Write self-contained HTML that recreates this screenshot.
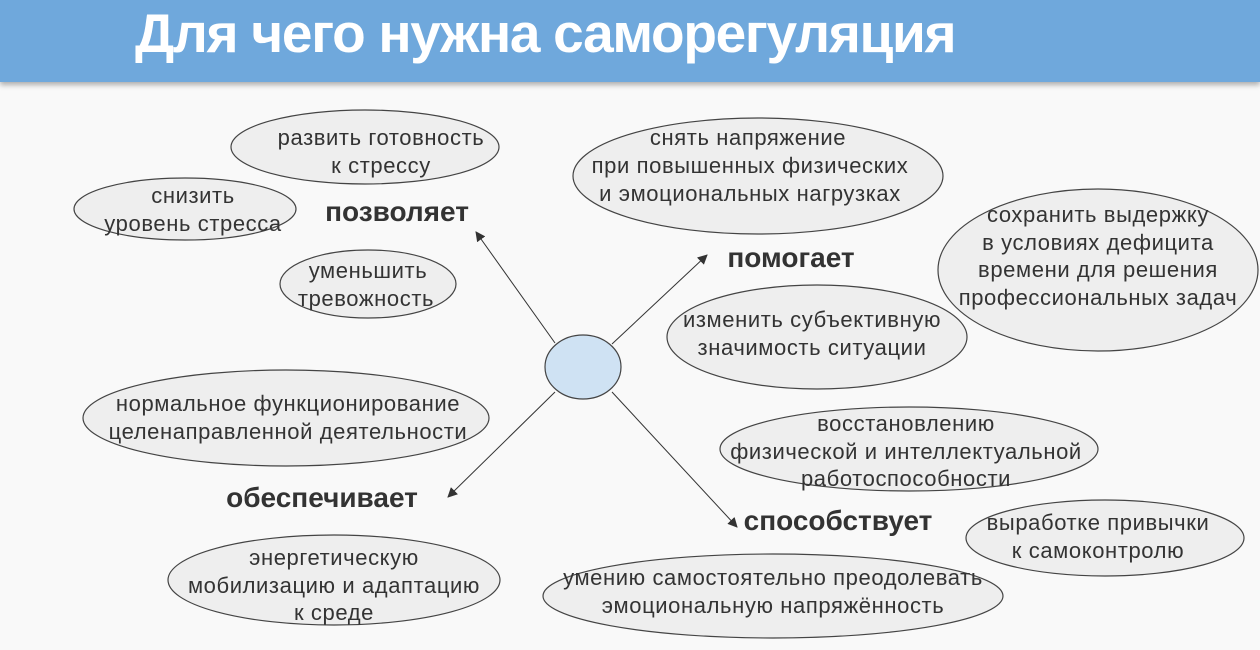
<!DOCTYPE html>
<html><head><meta charset="utf-8"><style>
body{margin:0;width:1260px;height:650px;background:#f9f9f9;overflow:hidden;font-family:"Liberation Sans",sans-serif}
.h{position:absolute;left:0;top:0;width:1260px;height:82px;background:#6fa8dc;box-shadow:0 3px 5px rgba(0,0,0,.3)}
.h div{position:absolute;left:135px;top:1px;font-size:55px;font-weight:bold;color:#fff;letter-spacing:-1.3px}
svg{position:absolute;left:0;top:0}
</style></head><body>
<div class="h"><div>Для чего нужна саморегуляция</div></div>
<svg width="1260" height="650" font-family="Liberation Sans, sans-serif">
<defs><marker id="a" markerWidth="10" markerHeight="10" refX="9" refY="5" orient="auto" markerUnits="userSpaceOnUse"><path d="M0,0 L10,5 L0,10z" fill="#333"/></marker></defs>
<g fill="#eeeeee" stroke="#444" stroke-width="1.2">
<ellipse cx="365" cy="147" rx="134" ry="37"/>
<ellipse cx="185" cy="209" rx="111" ry="31"/>
<ellipse cx="368" cy="284" rx="88" ry="34"/>
<ellipse cx="758" cy="176" rx="185" ry="58"/>
<ellipse cx="1098" cy="270" rx="160" ry="81"/>
<ellipse cx="817" cy="337" rx="150" ry="52"/>
<ellipse cx="286" cy="418" rx="203" ry="48"/>
<ellipse cx="909" cy="449" rx="189" ry="42"/>
<ellipse cx="1105" cy="538" rx="139" ry="38"/>
<ellipse cx="334" cy="580" rx="166" ry="45"/>
<ellipse cx="773" cy="596" rx="230" ry="42"/>
<ellipse cx="583" cy="367" rx="38" ry="32" fill="#cfe2f3"/>
</g>
<g stroke="#333" stroke-width="1" marker-end="url(#a)">
<line x1="555" y1="343" x2="476" y2="232"/>
<line x1="612" y1="344" x2="707" y2="255"/>
<line x1="555" y1="392" x2="448" y2="497"/>
<line x1="612" y1="392" x2="737" y2="527"/>
</g>
<g fill="#333" font-size="22" letter-spacing="0.6" text-anchor="middle">
<text x="381" y="145">развить готовность</text><text x="381" y="173">к стрессу</text>
<text x="193" y="203">снизить</text><text x="193" y="231">уровень стресса</text>
<text x="368" y="278">уменьшить</text><text x="366" y="306">тревожность</text>
<text x="748" y="145">снять напряжение</text><text x="750" y="173">при повышенных физических</text><text x="750" y="201">и эмоциональных нагрузках</text>
<text x="1098" y="222">сохранить выдержку</text><text x="1098" y="250">в условиях дефицита</text><text x="1098" y="277">времени для решения</text><text x="1098" y="305">профессиональных задач</text>
<text x="812" y="327">изменить субъективную</text><text x="812" y="355">значимость ситуации</text>
<text x="288" y="411">нормальное функционирование</text><text x="288" y="439">целенаправленной деятельности</text>
<text x="906" y="431">восстановлению</text><text x="906" y="459">физической и интеллектуальной</text><text x="906" y="486">работоспособности</text>
<text x="1098" y="530">выработке привычки</text><text x="1098" y="558">к самоконтролю</text>
<text x="334" y="565">энергетическую</text><text x="334" y="593">мобилизацию и адаптацию</text><text x="334" y="620">к среде</text>
<text x="773" y="585">умению самостоятельно преодолевать</text><text x="773" y="613">эмоциональную напряжённость</text>
</g>
<g fill="#333" font-size="28" font-weight="bold" text-anchor="middle">
<text x="397" y="221">позволяет</text>
<text x="791" y="267">помогает</text>
<text x="322" y="507">обеспечивает</text>
<text x="838" y="530">способствует</text>
</g>
</svg>
</body></html>
